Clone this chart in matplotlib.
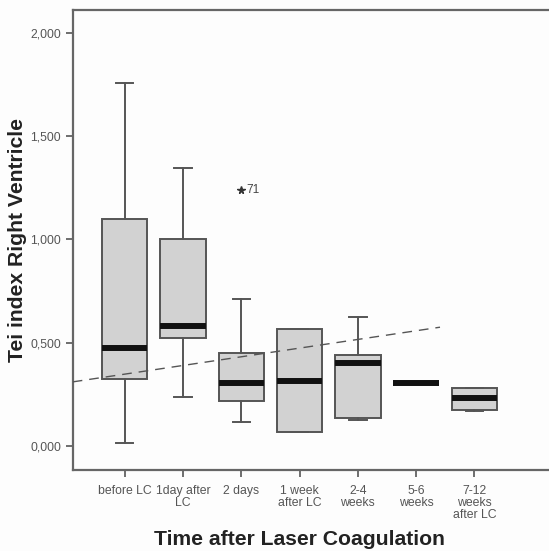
import matplotlib
matplotlib.use("Agg")
import matplotlib.pyplot as plt

# groups on the x axis
groups = ["before LC", "1day after\nLC", "2 days", "1 week\nafter LC",
          "2-4\nweeks", "5-6\nweeks", "7-12\nweeks\nafter LC"]

# box statistics
whis_lo = [0.013, 0.239, 0.116, 0.068, 0.126, 0.307, 0.172]
q1 = [0.323, 0.525, 0.218, 0.068, 0.134, 0.307, 0.174]
med = [0.473, 0.583, 0.307, 0.316, 0.400, 0.307, 0.231]
q3 = [1.101, 1.001, 0.449, 0.565, 0.441, 0.307, 0.279]
whis_hi = [1.756, 1.348, 0.710, 0.565, 0.623, 0.307, 0.279]

# extreme value (star) and its case number
outlier_group = 2
outlier_value = 1.24
outlier_label = "71"

# dashed trend line: value at first group and slope per group
trend_intercept = 0.348
trend_slope = 0.042
trend_end = 5.41

yticks = [0.0, 0.5, 1.0, 1.5, 2.0]
ytick_labels = ["0,000", "0,500", "1,000", "1,500", "2,000"]

plt.rcParams["font.family"] = ["Liberation Sans", "DejaVu Sans"]

fig = plt.figure(figsize=(5.49, 5.51), dpi=100)
fig.patch.set_facecolor("#fdfdfd")
ax = fig.add_axes([0.1324, 0.147, 0.8676, 0.835])
ax.set_facecolor("#fdfdfd")

stats = []
for i, name in enumerate(groups):
    stats.append({"label": name, "whislo": whis_lo[i], "q1": q1[i], "med": med[i],
                  "q3": q3[i], "whishi": whis_hi[i], "fliers": []})

edge = "#555555"
ax.bxp(stats, positions=range(len(groups)), widths=0.78, patch_artist=True,
       showfliers=False,
       boxprops=dict(facecolor="#d2d2d2", edgecolor=edge, linewidth=1.4),
       medianprops=dict(color="#111111", linewidth=4.3, solid_capstyle="butt"),
       whiskerprops=dict(color=edge, linewidth=1.4),
       capprops=dict(color=edge, linewidth=1.4),
       capwidths=0.3)

ax.plot([outlier_group], [outlier_value], marker="*", color="#333333",
        markersize=5.5, linestyle="none")
ax.text(outlier_group + 0.08, outlier_value, outlier_label, fontsize=8.5,
        color="#444444", va="center", ha="left")

xmin, xmax = -0.892, 7.28
tx = [xmin, trend_end]
ty = [trend_intercept + trend_slope * x for x in tx]
ax.plot(tx, ty, color="#555555", linewidth=1.0, linestyle=(0, (7, 5)), zorder=5)

ax.set_xlim(xmin, xmax)
ax.set_ylim(-0.116, 2.111)
ax.set_yticks(yticks)
ax.set_yticklabels(ytick_labels)
ax.set_xticks(range(len(groups)))
ax.set_xticklabels(groups, linespacing=1.0)

ax.tick_params(axis="both", colors="#555555", labelcolor="#555555",
               labelsize=8.8, width=1.2, length=5)
ax.tick_params(axis="x", pad=6)
for side in ("left", "bottom", "top"):
    ax.spines[side].set_color("#666666")
    ax.spines[side].set_linewidth(1.6)
ax.spines["right"].set_visible(False)

ax.set_xlabel("Time after Laser Coagulation", fontsize=15.2, fontweight="bold",
              color="#222222")
ax.xaxis.set_label_coords(0.477, -0.13)
ax.set_ylabel("Tei index Right Ventricle", fontsize=15.2, fontweight="bold",
              color="#222222", labelpad=2)

fig.savefig("out.png", dpi=100, facecolor=fig.get_facecolor())
